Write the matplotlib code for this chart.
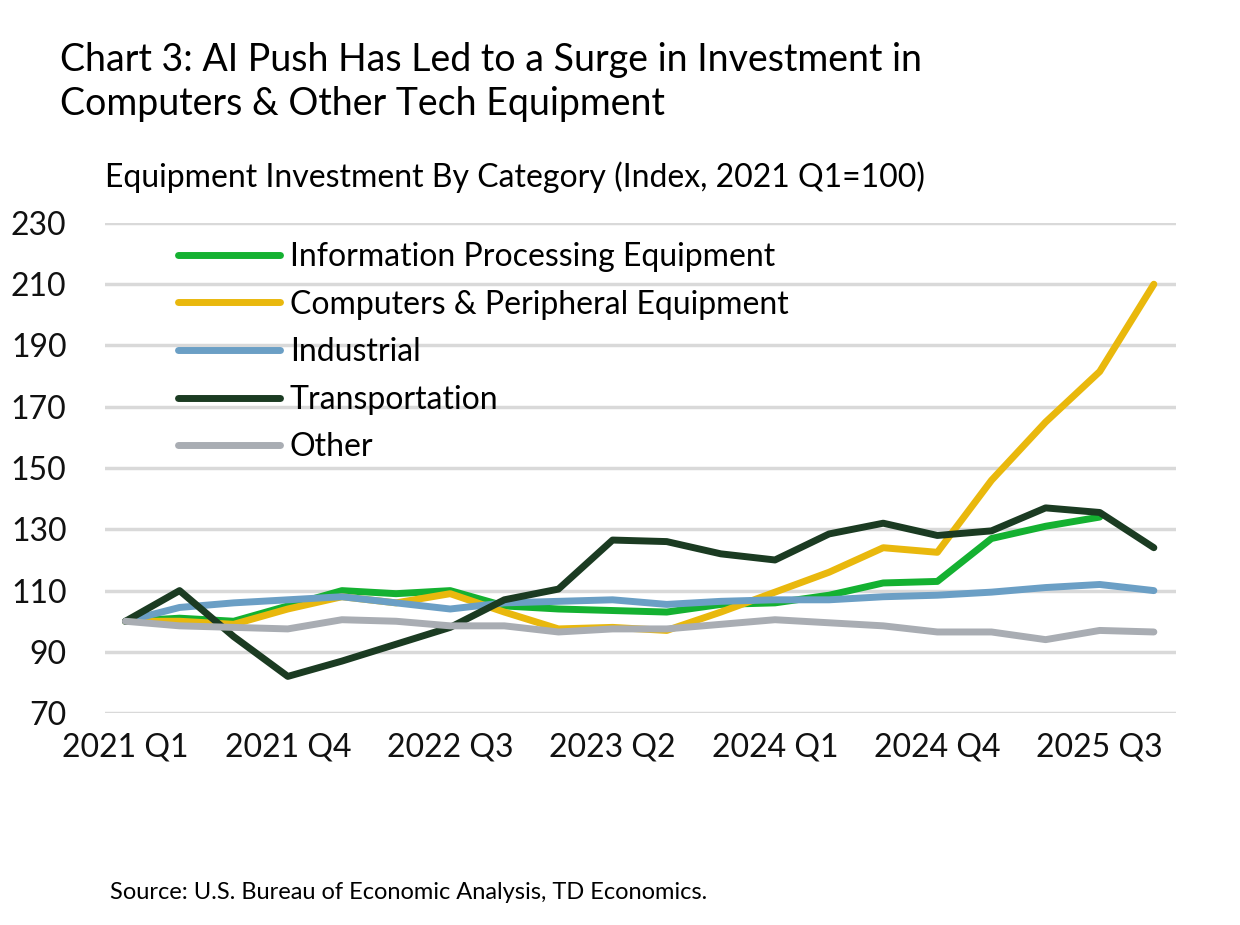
import matplotlib
matplotlib.use("Agg")
import matplotlib.pyplot as plt

plt.rcParams['font.family'] = ['Lato', 'DejaVu Sans']

quarters = [f"{y} Q{q}" for y in range(2021, 2026) for q in range(1, 5)]
tick_labels = ["2021 Q1", "2021 Q4", "2022 Q3", "2023 Q2", "2024 Q1", "2024 Q4", "2025 Q3"]

info_proc = [100, 101, 100, 105, 110, 109, 110, 105, 104, 103.5, 103, 105.5, 106, 108.5, 112.5, 113, 127, 131, 134]
computers = [100, 100, 99, 104, 108, 106, 109, 103, 97.5, 98, 97, 103, 109.5, 116, 124, 122.5, 146, 165, 181.5, 210]
industrial = [100, 104.5, 106, 107, 108, 106, 104, 106, 106.5, 107, 105.5, 106.5, 107, 107, 108, 108.5, 109.5, 111, 112, 110]
transport = [100, 110, 95, 82, 87, 92.5, 98, 107, 110.5, 126.5, 126, 122, 120, 128.5, 132, 128, 129.5, 137, 135.5, 124]
other = [100, 98.5, 98, 97.5, 100.5, 100, 98.5, 98.5, 96.5, 97.5, 97.5, 99, 100.5, 99.5, 98.5, 96.5, 96.5, 94, 97, 96.5]

series = [
    ("Information Processing Equipment", info_proc, "#14b131"),
    ("Computers & Peripheral Equipment", computers, "#e9b80d"),
    ("Industrial", industrial, "#6b9fc5"),
    ("Transportation", transport, "#1b3b22"),
    ("Other", other, "#a9adb3"),
]

fig = plt.figure(figsize=(12.4, 9.25), dpi=100)
ax = fig.add_axes([0.085, 0.229, 0.863, 0.530])
for name, vals, col in series:
    ax.plot(range(len(vals)), vals, color=col, lw=5, label=name, solid_capstyle='round')

ax.set_ylim(70, 230)
ax.set_yticks(range(70, 231, 20))
ax.set_xlim(-0.37, 19.4)
ax.set_xticks([quarters.index(t) for t in tick_labels])
ax.set_xticklabels(tick_labels)
ax.grid(axis='y', color='#d9d9d9', lw=2.5)
ax.set_axisbelow(True)
for s in ax.spines.values():
    s.set_visible(False)
ax.tick_params(length=0, labelsize=23, colors='#111111')
ax.tick_params(axis='x', pad=14)
ax.tick_params(axis='y', pad=28)

ax.legend(loc='upper left', bbox_to_anchor=(0.05, 1.0), frameon=False, fontsize=23,
          handlelength=3.2, handletextpad=0.3, labelspacing=0.55, borderaxespad=0.2)

fig.text(0.048, 0.955, "Chart 3: AI Push Has Led to a Surge in Investment in\nComputers & Other Tech Equipment",
         fontsize=27, va='top', ha='left', linespacing=1.3)
fig.text(0.085, 0.808, "Equipment Investment By Category (Index, 2021 Q1=100)", fontsize=23, va='center')
fig.text(0.089, 0.035, "Source: U.S. Bureau of Economic Analysis, TD Economics.", fontsize=17, va='center')

fig.savefig("out.png", dpi=100)
